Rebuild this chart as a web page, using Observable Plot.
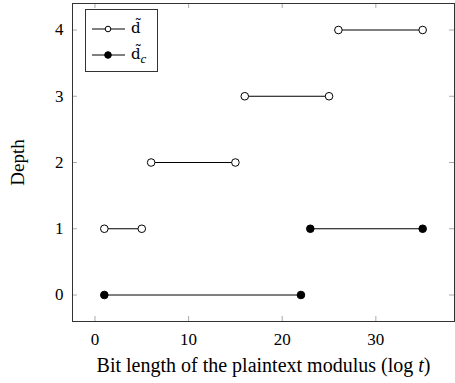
<!DOCTYPE html>
<html>
<head>
<meta charset="utf-8">
<script src="https://cdn.jsdelivr.net/npm/d3@7"></script>
<script src="https://cdn.jsdelivr.net/npm/@observablehq/plot@0.6"></script>
<style>
  body { margin: 0; background: #fff; }
  #wrap { position: relative; width: 455px; height: 383px; font-family: "Liberation Serif", "DejaVu Serif", serif; }
  #legend { position: absolute; left: 85px; top: 9px; width: 73px; height: 63px; border: 1px solid #333; background: #fff; box-sizing: border-box; }
  .row { position: absolute; left: 0; height: 20px; width: 72px; }
  .row svg { position: absolute; left: 5px; top: 0; }
  .lab { position: absolute; left: 45px; top: -1px; font-family: "DejaVu Serif", serif; font-size: 15px; line-height: 20px; white-space: nowrap; }
  .lab sub { font-family: "Liberation Serif", serif; font-style: italic; font-size: 13px; vertical-align: -4px; line-height: 0; }
</style>
</head>
<body>
<div id="wrap">
  <div id="chart"></div>
  <div id="legend">
    <div class="row" style="top:9px"><svg width="36" height="20"><line x1="1" y1="10" x2="34" y2="10" stroke="#000" stroke-width="1"/><circle cx="17" cy="10" r="2.8" fill="#fff" stroke="#000" stroke-width="1"/></svg><span class="lab">d&#x303;</span></div>
    <div class="row" style="top:35px"><svg width="36" height="20"><line x1="1" y1="10" x2="34" y2="10" stroke="#000" stroke-width="1"/><circle cx="17" cy="10" r="3.3" fill="#000" stroke="#000" stroke-width="1"/></svg><span class="lab">d&#x303;<sub>c</sub></span></div>
  </div>
</div>
<script>
// Series d~ (open markers)
const dDepth = [1, 2, 3, 4];
const dStart = [1, 6, 16, 26];
const dEnd   = [5, 15, 25, 35];
// Series d~_c (filled markers)
const dcDepth = [0, 1];
const dcStart = [1, 23];
const dcEnd   = [22, 35];
// Ticks
const xTicks = [0, 10, 20, 30];
const yTicks = [0, 1, 2, 3, 4];
const xDomain = [-2.4, 38.4];
const yDomain = [-0.4, 4.4];

const segD = dDepth.map((y, i) => ({y, x1: dStart[i], x2: dEnd[i]}));
const segDc = dcDepth.map((y, i) => ({y, x1: dcStart[i], x2: dcEnd[i]}));
const ptsD = segD.flatMap(s => [{x: s.x1, y: s.y}, {x: s.x2, y: s.y}]);
const ptsDc = segDc.flatMap(s => [{x: s.x1, y: s.y}, {x: s.x2, y: s.y}]);

const tickLenY = 0.075; // in y units (~5px)
const tickLenX = 0.53;  // in x units (~5px)
const serif = "'Liberation Serif', 'DejaVu Serif', serif";

const plot = Plot.plot({
  width: 455,
  height: 383,
  marginLeft: 72,
  marginRight: 1,
  marginTop: 3,
  marginBottom: 62,
  style: {fontFamily: serif, fontSize: "16px", background: "#fff", overflow: "visible"},
  x: {domain: xDomain},
  y: {domain: yDomain},
  marks: [
    Plot.ruleX(xTicks, {x: d => d, y1: yDomain[0], y2: yDomain[0] + tickLenY, stroke: "#aaa"}),
    Plot.ruleX(xTicks, {x: d => d, y1: yDomain[1], y2: yDomain[1] - tickLenY, stroke: "#aaa"}),
    Plot.ruleY(yTicks, {y: d => d, x1: xDomain[0], x2: xDomain[0] + tickLenX, stroke: "#aaa"}),
    Plot.ruleY(yTicks, {y: d => d, x1: xDomain[1], x2: xDomain[1] - tickLenX, stroke: "#aaa"}),
    Plot.frame({stroke: "#333", strokeWidth: 1}),
    Plot.axisX({ticks: xTicks, tickFormat: d3.format("d"), tickSize: 0, tickPadding: 11, fontSize: 17, fontFamily: "Liberation Serif", fontVariant: "normal", label: "Bit length of the plaintext modulus (log t)", labelAnchor: "center", labelArrow: "none", labelOffset: 50}),
    Plot.axisY({ticks: yTicks, tickFormat: d3.format("d"), tickSize: 0, tickPadding: 9, fontSize: 17, fontFamily: "Liberation Serif", fontVariant: "normal", label: "Depth", labelAnchor: "center", labelArrow: "none", labelOffset: 62}),
    Plot.link(segD, {x1: "x1", x2: "x2", y1: "y", y2: "y", stroke: "#000", strokeWidth: 1}),
    Plot.link(segDc, {x1: "x1", x2: "x2", y1: "y", y2: "y", stroke: "#000", strokeWidth: 1}),
    Plot.dot(ptsD, {x: "x", y: "y", r: 3.8, fill: "#fff", stroke: "#000", strokeWidth: 1}),
    Plot.dot(ptsDc, {x: "x", y: "y", r: 3.8, fill: "#000", stroke: "#000", strokeWidth: 1})
  ]
});
document.getElementById("chart").appendChild(plot);

d3.select(plot).selectAll("text, g").style("font-family", serif);
d3.select(plot).selectAll("text").style("fill", "#000");
d3.select(plot).selectAll("text").each(function() {
  const t = d3.select(this);
  const s = t.text();
  if (s.startsWith("Bit length")) {
    t.text(null).style("font-size", "20px");
    t.append("tspan").text("Bit length of the plaintext modulus (log ");
    t.append("tspan").style("font-style", "italic").text("t");
    t.append("tspan").text(")");
  } else if (s === "Depth") {
    t.style("font-size", "19px");
  }
});
</script>
</body>
</html>
